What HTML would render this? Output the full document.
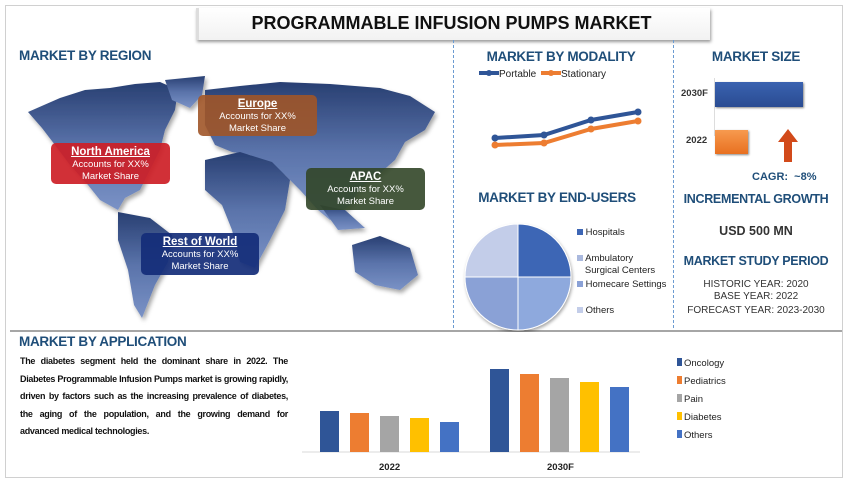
<!DOCTYPE html>
<html><head><meta charset="utf-8"><style>
body{margin:0;width:848px;height:482px;background:#fff;font-family:"Liberation Sans",sans-serif;position:relative;overflow:hidden}
.a{position:absolute}
.h{color:#1f4e79;font-weight:bold;font-size:13.5px;white-space:nowrap;letter-spacing:-0.3px}
.c{text-align:center}
.box{position:absolute;border-radius:5px;color:#fff;text-align:center;font-size:9.5px;line-height:12px;padding-top:3px;box-sizing:border-box}
.box b{text-decoration:underline;font-size:11.5px;display:block;line-height:13px}
.sm{font-size:9.5px;color:#333;font-weight:bold;white-space:nowrap}
.g{font-size:10px;color:#333;white-space:nowrap}
.p div{text-align:justify;text-align-last:justify;height:17.6px;white-space:nowrap}
</style></head><body>
<div class="a" style="left:5px;top:5px;width:836px;height:471px;border:1px solid #d0d0d0"></div>
<div class="a" style="left:196px;top:8px;width:511px;height:32px;background:linear-gradient(#fff,#f2f2f2);box-shadow:1px 2px 3px #999;border-left:3px solid #ddd"></div>
<div class="a c" style="left:196px;top:13px;width:511px;font-size:18px;font-weight:bold;color:#111">PROGRAMMABLE INFUSION PUMPS MARKET</div>

<div class="a h" style="left:19px;top:48px">MARKET BY REGION</div>
<svg class="a" style="left:0;top:0" width="450" height="330">
<defs><linearGradient id="mg" x1="0" y1="0" x2="0" y2="1"><stop offset="0" stop-color="#283f72"/><stop offset="0.5" stop-color="#5a73aa"/><stop offset="1" stop-color="#7a92c6"/></linearGradient>
<filter id="sh"><feDropShadow dx="2" dy="3" stdDeviation="2" flood-opacity="0.35"/></filter></defs>
<g fill="url(#mg)" filter="url(#sh)">
<path d="M28,112 L60,98 L85,90 L110,88 L135,84 L160,82 L178,90 L175,110 L165,130 L160,150 L150,170 L140,190 L125,198 L118,210 L100,200 L88,185 L70,165 L55,145 L42,128 Z"/>
<path d="M165,80 L205,76 L202,95 L190,108 L172,100 Z"/>
<path d="M118,212 L150,218 L172,235 L168,262 L155,285 L142,318 L134,305 L128,270 L118,240 Z"/>
<path d="M205,90 L240,86 L280,82 L330,84 L380,88 L410,96 L435,112 L425,130 L405,142 L395,160 L378,175 L360,188 L350,205 L330,220 L318,210 L300,190 L285,175 L268,165 L250,155 L232,152 L215,145 L205,125 Z"/>
<path d="M205,160 L240,152 L272,162 L290,180 L285,210 L270,240 L255,268 L240,262 L232,230 L222,205 L205,190 Z"/>
<path d="M352,245 L380,236 L410,248 L418,275 L400,290 L375,285 L355,272 Z"/>
<path d="M320,205 L345,210 L365,228 L338,230 Z"/>
</g></svg>
<div class="box" style="left:198px;top:95px;width:119px;height:41px;background:rgba(160,85,40,.9)"><b>Europe</b>Accounts for XX%<br>Market Share</div>
<div class="box" style="left:51px;top:143px;width:119px;height:41px;background:rgba(205,30,38,.92)"><b>North America</b>Accounts for XX%<br>Market Share</div>
<div class="box" style="left:306px;top:168px;width:119px;height:42px;background:rgba(50,70,40,.9)"><b>APAC</b>Accounts for XX%<br>Market Share</div>
<div class="box" style="left:141px;top:233px;width:118px;height:42px;background:rgba(20,45,120,.92)"><b>Rest of World</b>Accounts for XX%<br>Market Share</div>

<div class="a" style="left:453px;top:40px;height:288px;border-left:1px dashed #6b9bd1"></div>
<div class="a" style="left:673px;top:40px;height:288px;border-left:1px dashed #6b9bd1"></div>
<div class="a" style="left:10px;top:330px;width:832px;height:2px;background:#a6a6a6"></div>

<div class="a h c" style="left:455px;top:49px;width:212px">MARKET BY MODALITY</div>
<svg class="a" style="left:455px;top:62px" width="218" height="100">
<line x1="24" y1="11" x2="44" y2="11" stroke="#2f5597" stroke-width="4"/><circle cx="34" cy="11" r="3" fill="#2f5597"/>
<text x="44" y="15" font-size="10" fill="#222" font-family="Liberation Sans">Portable</text>
<line x1="86" y1="11" x2="106" y2="11" stroke="#ed7d31" stroke-width="4"/><circle cx="96" cy="11" r="3" fill="#ed7d31"/>
<text x="106" y="15" font-size="10" fill="#222" font-family="Liberation Sans">Stationary</text>
<polyline points="40,83 89,81 136,67 183,59" fill="none" stroke="#ed7d31" stroke-width="4"/>
<polyline points="40,76 89,73 136,58 183,50" fill="none" stroke="#2f5597" stroke-width="4"/>
<g fill="#ed7d31"><circle cx="40" cy="83" r="3.5"/><circle cx="89" cy="81" r="3.5"/><circle cx="136" cy="67" r="3.5"/><circle cx="183" cy="59" r="3.5"/></g>
<g fill="#2f5597"><circle cx="40" cy="76" r="3.5"/><circle cx="89" cy="73" r="3.5"/><circle cx="136" cy="58" r="3.5"/><circle cx="183" cy="50" r="3.5"/></g>
</svg>

<div class="a h c" style="left:675px;top:49px;width:162px">MARKET SIZE</div>
<div class="a sm" style="left:681px;top:88px">2030F</div>
<div class="a sm" style="left:686px;top:135px">2022</div>
<div class="a" style="left:714px;top:78px;height:58px;border-left:1px solid #ddd"></div>
<div class="a" style="left:715px;top:82px;width:88px;height:25px;background:linear-gradient(#3a62b0,#2a4c92);box-shadow:1px 1px 2px #888"></div>
<div class="a" style="left:715px;top:130px;width:33px;height:24px;background:linear-gradient(#f79a4f,#e87020);box-shadow:1px 1px 2px #888"></div>
<svg class="a" style="left:777px;top:129px" width="22" height="34"><polygon points="11,0 21,13 15,13 15,33 7,33 7,13 1,13" fill="#d24a1a"/></svg>
<div class="a" style="left:752px;top:171px;font-size:11px;font-weight:bold;color:#1f4e79">CAGR:&nbsp; ~8%</div>
<div class="a h c" style="left:675px;top:192px;width:162px;font-size:12.5px">INCREMENTAL GROWTH</div>
<div class="a c" style="left:675px;top:224px;width:162px;font-size:12.5px;font-weight:bold;color:#333">USD 500 MN</div>
<div class="a h c" style="left:675px;top:254px;width:162px;font-size:12.5px">MARKET STUDY PERIOD</div>
<div class="a c g" style="left:675px;top:279px;width:162px">HISTORIC YEAR: 2020</div>
<div class="a c g" style="left:675px;top:291px;width:162px">BASE YEAR: 2022</div>
<div class="a c g" style="left:675px;top:305px;width:162px">FORECAST YEAR: 2023-2030</div>

<div class="a h c" style="left:455px;top:190px;width:204px">MARKET BY END-USERS</div>
<svg class="a" style="left:462px;top:220px" width="115" height="112">
<defs><filter id="ps"><feDropShadow dx="1" dy="2" stdDeviation="1.5" flood-opacity="0.35"/></filter></defs>
<g filter="url(#ps)" stroke="#fff" stroke-width="1">
<path d="M56,57 L56,4 A53,53 0 0 1 109,57 Z" fill="#3d66b5"/>
<path d="M56,57 L109,57 A53,53 0 0 1 56,110 Z" fill="#8ea9dd"/>
<path d="M56,57 L56,110 A53,53 0 0 1 3,57 Z" fill="#8aa1d6"/>
<path d="M56,57 L3,57 A53,53 0 0 1 56,4 Z" fill="#c3cde9"/>
</g></svg>
<div class="a" style="left:577px;top:227px;font-size:9.5px;color:#222;line-height:12px">
<div style="position:absolute;top:0;white-space:nowrap"><span style="display:inline-block;width:6px;height:6px;background:#3d66b5"></span> Hospitals</div>
<div style="position:absolute;top:26px;white-space:nowrap"><span style="display:inline-block;width:6px;height:6px;background:#aab9de"></span> Ambulatory<br>&nbsp;&nbsp;&nbsp;Surgical Centers</div>
<div style="position:absolute;top:52px;white-space:nowrap"><span style="display:inline-block;width:6px;height:6px;background:#8aa1d6"></span> Homecare Settings</div>
<div style="position:absolute;top:78px;white-space:nowrap"><span style="display:inline-block;width:6px;height:6px;background:#c3cde9"></span> Others</div>
</div>

<div class="a h" style="left:19px;top:334px">MARKET BY APPLICATION</div>
<div class="a p" style="left:20px;top:353px;width:268px;font-size:9px;line-height:17.6px;color:#111;font-weight:bold;letter-spacing:-0.3px">
<div>The diabetes segment held the dominant share in 2022. The</div>
<div>Diabetes Programmable Infusion Pumps market is growing rapidly,</div>
<div>driven by factors such as the increasing prevalence of diabetes,</div>
<div>the aging of the population, and the growing demand for</div>
<div style="text-align-last:left">advanced medical technologies.</div>
</div>

<svg class="a" style="left:0;top:330px" width="848" height="152">
<line x1="302" y1="122" x2="640" y2="122" stroke="#d9d9d9"/>
<g>
<rect x="320" y="81" width="19" height="41" fill="#2f5597"/>
<rect x="350" y="83" width="19" height="39" fill="#ed7d31"/>
<rect x="380" y="86" width="19" height="36" fill="#a5a5a5"/>
<rect x="410" y="88" width="19" height="34" fill="#ffc000"/>
<rect x="440" y="92" width="19" height="30" fill="#4472c4"/>
<rect x="490" y="39" width="19" height="83" fill="#2f5597"/>
<rect x="520" y="44" width="19" height="78" fill="#ed7d31"/>
<rect x="550" y="48" width="19" height="74" fill="#a5a5a5"/>
<rect x="580" y="52" width="19" height="70" fill="#ffc000"/>
<rect x="610" y="57" width="19" height="65" fill="#4472c4"/>
</g>
<g font-family="Liberation Sans" font-size="9.5" font-weight="bold" fill="#222">
<text x="379" y="140">2022</text><text x="547" y="140">2030F</text>
</g>
<g font-family="Liberation Sans" font-size="9.5" fill="#222">
<rect x="677" y="28" width="5" height="8" fill="#2f5597"/><text x="684" y="36">Oncology</text>
<rect x="677" y="46" width="5" height="8" fill="#ed7d31"/><text x="684" y="54">Pediatrics</text>
<rect x="677" y="64" width="5" height="8" fill="#a5a5a5"/><text x="684" y="72">Pain</text>
<rect x="677" y="82" width="5" height="8" fill="#ffc000"/><text x="684" y="90">Diabetes</text>
<rect x="677" y="100" width="5" height="8" fill="#4472c4"/><text x="684" y="108">Others</text>
</g></svg>
</body></html>
